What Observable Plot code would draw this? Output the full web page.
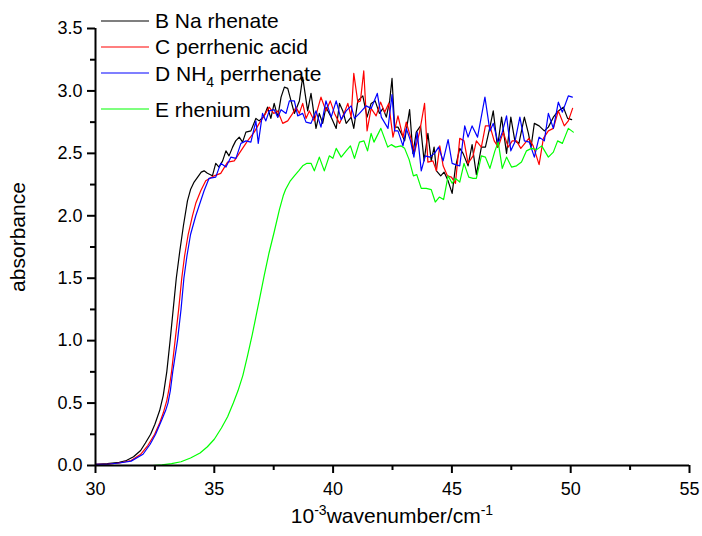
<!DOCTYPE html>
<html>
<head>
<meta charset="utf-8">
<script src="https://cdn.jsdelivr.net/npm/d3@7"></script>
<script src="https://cdn.jsdelivr.net/npm/@observablehq/plot@0.6"></script>
<style>
  html, body { margin: 0; padding: 0; background: #fff; }
  #chart { width: 702px; height: 536px; }
</style>
</head>
<body>
<div id="chart"></div>
<script>
// ---- tick values ----
const xTicks = [30, 35, 40, 45, 50, 55];
const xMinorTicks = [32.5, 37.5, 42.5, 47.5, 52.5];
const yTicks = [0, 0.5, 1.0, 1.5, 2.0, 2.5, 3.0, 3.5];
const yMinorTicks = [0.25, 0.75, 1.25, 1.75, 2.25, 2.75, 3.25];

// ---- series names / colours ----
const seriesNames = ["B Na rhenate", "C perrhenic acid", "D NH4 perrhenate", "E rhenium"];
const seriesColors = ["#000000", "#ff0000", "#0000ff", "#00ff00"];

// ---- B Na rhenate ----
const bX = [30, 30.5, 31, 31.3, 31.6, 31.9, 32.1, 32.32, 32.5, 32.7, 32.85, 33.0, 33.14, 33.27, 33.4, 33.55, 33.7, 33.87, 34.0, 34.15, 34.3, 34.45, 34.57, 34.71, 34.92,
  35.06, 35.2, 35.35, 35.49, 35.62, 35.77, 35.9, 36.05, 36.19, 36.33, 36.54, 36.75, 36.89, 37.1, 37.24, 37.38, 37.52, 37.67, 37.81, 37.95,
  38.09, 38.23, 38.37, 38.58, 38.72, 38.82, 38.93, 39.07, 39.28, 39.42, 39.56, 39.7, 39.92, 40.13, 40.27, 40.41, 40.55, 40.76, 40.87, 41.04,
  41.25, 41.43, 41.6, 41.77, 41.95, 42.1, 42.24, 42.38, 42.48, 42.59, 42.73, 42.87, 43.01, 43.22, 43.36, 43.5, 43.68, 43.83, 43.99, 44.13,
  44.25, 44.35, 44.53, 44.67, 44.84, 45.01, 45.15, 45.33, 45.47, 45.68, 45.85, 46.03, 46.24, 46.41, 46.6, 46.74, 46.92, 47.09, 47.3, 47.48,
  47.65, 47.82, 48.05, 48.22, 48.33, 48.47, 48.67, 48.89, 49.06, 49.27, 49.48, 49.69, 49.87, 50.04];
const bY = [0.01, 0.015, 0.025, 0.04, 0.07, 0.12, 0.18, 0.25, 0.33, 0.44, 0.56, 0.75, 1.0, 1.25, 1.5, 1.72, 1.92, 2.12, 2.21, 2.27, 2.31, 2.35, 2.36, 2.34, 2.32,
  2.42, 2.39, 2.44, 2.52, 2.48, 2.55, 2.60, 2.63, 2.59, 2.67, 2.68, 2.78, 2.76, 2.80, 2.87, 2.78, 2.90, 2.79, 2.95, 3.03,
  3.02, 2.92, 2.82, 2.92, 3.11, 2.98, 2.84, 2.98, 2.70, 2.82, 2.74, 2.87, 2.79, 2.70, 2.90, 2.84, 2.74, 2.79, 2.70, 2.92,
  2.96, 2.79, 2.90, 2.92, 2.82, 2.86, 2.79, 2.92, 3.10, 2.71, 2.71, 2.66, 2.60, 2.85, 2.50, 2.67, 2.72, 2.44, 2.66, 2.44,
  2.55, 2.36, 2.32, 2.35, 2.28, 2.18, 2.39, 2.54, 2.50, 2.40, 2.57, 2.33, 2.55, 2.55, 2.71, 2.84, 2.55, 2.79, 2.50, 2.79,
  2.60, 2.58, 2.79, 2.66, 2.55, 2.74, 2.72, 2.68, 2.71, 2.79, 2.84, 2.87, 2.78, 2.77];

// ---- C perrhenic acid ----
const cX = [30, 30.5, 31, 31.5, 31.9, 32.2, 32.49, 32.7, 32.85, 33.0, 33.1, 33.2, 33.35, 33.5, 33.63, 33.75, 33.9, 34.08, 34.22, 34.43, 34.64, 34.99,
  35.27, 35.56, 35.84, 36.12, 36.4, 36.68, 36.89, 37.1, 37.31, 37.5, 37.67, 37.88, 38.09, 38.3, 38.44, 38.58, 38.72, 38.86, 39.0, 39.21,
  39.49, 39.7, 39.88, 40.06, 40.27, 40.48, 40.62, 40.76, 40.87, 41.04, 41.15, 41.29, 41.43, 41.6, 41.81, 42.0, 42.17, 42.34, 42.52, 42.73,
  42.94, 43.08, 43.26, 43.43, 43.64, 43.85, 43.99, 44.2, 44.35, 44.49, 44.63, 44.81, 44.98, 45.15, 45.33, 45.51, 45.68, 45.89, 46.03, 46.24,
  46.41, 46.6, 46.78, 46.95, 47.16, 47.37, 47.54, 47.72, 47.9, 48.07, 48.24, 48.42, 48.67, 48.85, 49.06, 49.27, 49.48, 49.73, 49.9, 50.08];
const cY = [0.01, 0.01, 0.02, 0.04, 0.09, 0.16, 0.25, 0.34, 0.42, 0.52, 0.62, 0.75, 1.0, 1.25, 1.5, 1.68, 1.85, 2.0, 2.1, 2.2, 2.28, 2.32,
  2.34, 2.43, 2.44, 2.52, 2.60, 2.67, 2.74, 2.80, 2.87, 2.82, 2.84, 2.74, 2.76, 2.82, 2.87, 2.82, 2.90, 2.78, 2.84, 2.76,
  2.95, 2.84, 2.92, 2.82, 2.74, 2.83, 2.90, 2.79, 3.14, 2.91, 2.92, 3.16, 2.68, 2.86, 2.80, 2.91, 2.83, 2.90, 2.63, 2.80,
  2.63, 2.75, 2.63, 2.51, 2.67, 2.90, 2.43, 2.44, 2.36, 2.56, 2.40, 2.32, 2.31, 2.26, 2.62, 2.60, 2.42, 2.48, 2.60, 2.55,
  2.72, 2.72, 2.60, 2.55, 2.67, 2.55, 2.60, 2.60, 2.54, 2.58, 2.62, 2.56, 2.41, 2.62, 2.68, 2.70, 2.84, 2.72, 2.76, 2.86];

// ---- D NH4 perrhenate ----
const dX = [30, 30.5, 31, 31.5, 32, 32.3, 32.53, 32.8, 32.95, 33.05, 33.15, 33.25, 33.45, 33.6, 33.72, 33.85, 34.0, 34.22, 34.43, 34.57, 34.78, 35.06,
  35.27, 35.49, 35.7, 35.91, 36.12, 36.33, 36.54, 36.75, 36.85, 37.03, 37.17, 37.31, 37.52, 37.67, 37.81, 38.02, 38.16, 38.37, 38.51,
  38.72, 38.86, 39.07, 39.28, 39.49, 39.7, 39.92, 40.13, 40.34, 40.55, 40.76, 40.9, 41.11, 41.39, 41.6, 41.86, 42.03, 42.31, 42.48,
  42.59, 42.73, 42.94, 43.08, 43.26, 43.4, 43.54, 43.71, 43.88, 44.06, 44.27, 44.44, 44.63, 44.84, 45.01, 45.15, 45.33, 45.54, 45.68,
  45.85, 46.08, 46.39, 46.6, 46.74, 46.95, 47.12, 47.3, 47.48, 47.65, 47.86, 48.05, 48.26, 48.47, 48.67, 48.89, 49.06, 49.27, 49.48,
  49.65, 49.9, 50.07];
const dY = [0.01, 0.01, 0.02, 0.035, 0.09, 0.17, 0.25, 0.37, 0.44, 0.5, 0.6, 0.75, 1.0, 1.25, 1.5, 1.68, 1.85, 2.0, 2.12, 2.2, 2.3, 2.31,
  2.42, 2.39, 2.47, 2.46, 2.58, 2.60, 2.59, 2.76, 2.58, 2.82, 2.76, 2.84, 2.85, 2.79, 2.85, 2.82, 2.92, 2.92, 2.80,
  2.82, 2.75, 2.74, 2.84, 2.71, 2.92, 2.79, 2.92, 2.77, 2.84, 2.88, 2.78, 2.82, 2.88, 2.86, 2.98, 2.79, 2.70, 2.97,
  2.68, 2.68, 2.56, 2.70, 2.60, 2.47, 2.67, 2.36, 2.48, 2.47, 2.50, 2.55, 2.44, 2.61, 2.42, 2.41, 2.40, 2.72, 2.63,
  2.72, 2.63, 2.95, 2.68, 2.74, 2.58, 2.67, 2.80, 2.52, 2.59, 2.79, 2.60, 2.59, 2.47, 2.63, 2.60, 2.82, 2.70, 2.91,
  2.83, 2.96, 2.95];

// ---- E rhenium ----
const eX = [32.4, 32.8, 33.2, 33.6, 34.0, 34.4, 34.71, 35.0, 35.3, 35.56, 35.8, 36.0, 36.2, 36.4, 36.6, 36.75, 36.9, 37.1, 37.3, 37.52, 37.74, 37.9, 38.0, 38.2, 38.37, 38.55,
  38.72, 38.9, 39.07, 39.21, 39.42, 39.63, 39.84, 39.99, 40.13, 40.34, 40.55, 40.73, 40.9, 41.11, 41.3, 41.45, 41.6, 41.72, 42.01, 42.3,
  42.45, 42.63, 42.85, 43.01, 43.2, 43.38, 43.52, 43.71, 43.92, 44.13, 44.3, 44.47, 44.65, 44.84, 45.01, 45.15, 45.33, 45.51, 45.71, 45.89,
  46.03, 46.24, 46.41, 46.6, 46.81, 46.95, 47.12, 47.3, 47.51, 47.72, 47.93, 48.14, 48.35, 48.57, 48.78, 49.06, 49.27, 49.45, 49.65, 49.9, 50.11];
const eY = [0.0, 0.005, 0.015, 0.03, 0.06, 0.1, 0.15, 0.21, 0.30, 0.39, 0.5, 0.6, 0.72, 0.88, 1.05, 1.19, 1.33, 1.52, 1.70, 1.87, 2.05, 2.16, 2.21, 2.28, 2.32, 2.36,
  2.40, 2.42, 2.42, 2.36, 2.47, 2.36, 2.48, 2.46, 2.54, 2.47, 2.52, 2.56, 2.46, 2.59, 2.60, 2.52, 2.66, 2.59, 2.70, 2.55,
  2.57, 2.55, 2.56, 2.54, 2.45, 2.32, 2.33, 2.22, 2.22, 2.21, 2.11, 2.15, 2.13, 2.32, 2.26, 2.30, 2.27, 2.42, 2.31, 2.30,
  2.30, 2.48, 2.47, 2.38, 2.52, 2.59, 2.38, 2.47, 2.39, 2.40, 2.43, 2.52, 2.54, 2.53, 2.56, 2.47, 2.51, 2.60, 2.58, 2.70, 2.67];

// ---- build long table ----
const allX = [bX, cX, dX, eX];
const allY = [bY, cY, dY, eY];
const rows = [];
seriesNames.forEach((name, i) => {
  allX[i].forEach((x, j) => rows.push({series: name, x, y: allY[i][j]}));
});

const FONT = "'Liberation Sans', Arial, Helvetica, sans-serif";

const chart = Plot.plot({
  width: 702,
  height: 536,
  marginLeft: 95,
  marginRight: 13,
  marginTop: 28,
  marginBottom: 71,
  style: {fontFamily: FONT, fontSize: "18px", color: "#000", background: "#fff"},
  x: {domain: [30, 55]},
  y: {domain: [0, 3.5]},
  color: {domain: seriesNames, range: seriesColors},
  marks: [
    Plot.axisX({ticks: xTicks, tickSize: 8, tickPadding: 9, strokeWidth: 2, tickFormat: d3.format("d"), label: null, fontSize: 18}),
    Plot.axisX({ticks: xMinorTicks, tickSize: 5, strokeWidth: 2, tickFormat: () => "", label: null}),
    Plot.axisY({ticks: yTicks, tickSize: 8, tickPadding: 5, strokeWidth: 2, tickFormat: d3.format(".1f"), label: null, fontSize: 18}),
    Plot.axisY({ticks: yMinorTicks, tickSize: 5, strokeWidth: 2, tickFormat: () => "", label: null}),
    Plot.line(rows, {x: "x", y: "y", z: "series", stroke: "series", strokeWidth: 1.2, curve: "linear"}),
    Plot.ruleX([30], {strokeWidth: 2}),
    Plot.ruleY([0], {strokeWidth: 2})
  ]
});

const svg = d3.select(chart);

// y-axis title
svg.append("text")
  .attr("transform", "translate(25,237) rotate(-90)")
  .attr("text-anchor", "middle")
  .attr("font-family", FONT).attr("font-size", 21).attr("fill", "#000")
  .text("absorbance");

// x-axis title with superscripts
const xt = svg.append("text")
  .attr("x", 392).attr("y", 523)
  .attr("text-anchor", "middle")
  .attr("font-family", FONT).attr("font-size", 21).attr("fill", "#000");
xt.append("tspan").text("10");
xt.append("tspan").attr("font-size", 14).attr("dy", -8).text("-3");
xt.append("tspan").attr("dy", 8).text("wavenumber/cm");
xt.append("tspan").attr("font-size", 14).attr("dy", -8).text("-1");

// legend
const legendRows = [
  {i: 0, lineY: 21, base: 28},
  {i: 1, lineY: 47, base: 54},
  {i: 2, lineY: 73, base: 81},
  {i: 3, lineY: 109, base: 117}
];
const lg = svg.append("g");
legendRows.forEach(r => {
  lg.append("line").attr("x1", 101).attr("x2", 149).attr("y1", r.lineY).attr("y2", r.lineY)
    .attr("stroke", seriesColors[r.i]).attr("stroke-width", 1.2);
  const t = lg.append("text").attr("x", 155).attr("y", r.base)
    .attr("text-anchor", "start")
    .attr("font-family", FONT).attr("font-size", 21).attr("fill", "#000");
  if (r.i === 2) {
    t.append("tspan").text("D NH");
    t.append("tspan").attr("font-size", 14).attr("dy", 6).text("4");
    t.append("tspan").attr("dy", -6).text(" perrhenate");
  } else {
    t.text(seriesNames[r.i]);
  }
});

document.getElementById("chart").appendChild(chart);
</script>
</body>
</html>
